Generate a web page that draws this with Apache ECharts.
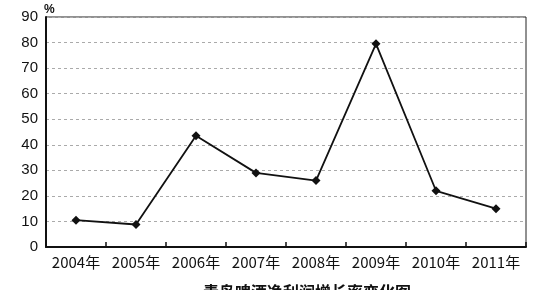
<!DOCTYPE html>
<html><head><meta charset="utf-8">
<script src="https://cdn.jsdelivr.net/npm/echarts@6/dist/echarts.min.js"></script>
<style>html,body{margin:0;padding:0;background:#fff}#c{width:550px;height:290px}</style>
</head><body><div id="c"></div>
<script>
const categories = ['2004年','2005年','2006年','2007年','2008年','2009年','2010年','2011年'];
const growthRate = [10.5, 8.8, 43.5, 29, 26, 79.5, 22, 15];
const yTicks = {min: 0, max: 90, interval: 10};
const titleText = '青岛啤酒净利润增长率变化图';
const unitText = '%';

const chart = echarts.init(document.getElementById('c'));
chart.setOption({
  animation: false,
  backgroundColor: '#fff',
  title: {
    text: titleText, left: 302, textAlign: 'center', top: 279,
    textStyle: {fontFamily: 'Noto Sans CJK SC', fontSize: 16, fontWeight: 'bold', color: '#111'}
  },
  graphic: [{
    type: 'text', left: 44, top: 4,
    style: {text: unitText, fill: '#111', font: 'bold 12px Liberation Sans'}
  }],
  grid: {left: 46, right: 24, top: 17, bottom: 43, show: true, borderColor: '#222', borderWidth: 1},
  xAxis: {
    type: 'category', data: categories, boundaryGap: true,
    axisLine: {lineStyle: {color: '#111', width: 2}},
    axisTick: {show: true, interval: 0, length: 5, inside: true, lineStyle: {color: '#111', width: 1.5}},
    axisLabel: {interval: 0, color: '#111', fontSize: 15, margin: 8, fontFamily: 'Noto Sans CJK SC'},
    splitLine: {show: false}
  },
  yAxis: {
    type: 'value', min: yTicks.min, max: yTicks.max, interval: yTicks.interval,
    axisLine: {show: true, lineStyle: {color: '#111', width: 2}},
    axisTick: {show: false},
    axisLabel: {color: '#111', fontSize: 15, margin: 8, fontFamily: 'Liberation Sans'},
    splitLine: {show: true, lineStyle: {color: '#aaa', type: [3,3], width: 1}}
  },
  series: [{
    type: 'line', data: growthRate,
    symbol: 'diamond', symbolSize: 9,
    lineStyle: {color: '#111', width: 1.8},
    itemStyle: {color: '#111'}
  }]
});
</script></body></html>
